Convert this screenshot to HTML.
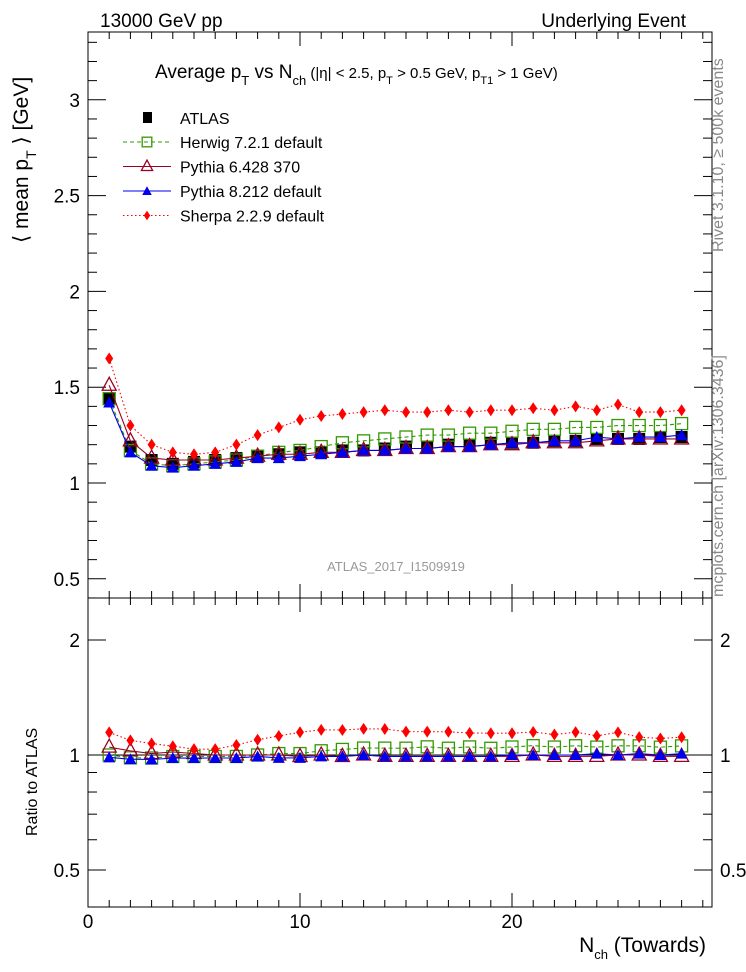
<!DOCTYPE html>
<html><head><meta charset="utf-8"><style>
body{margin:0;background:#fff}
svg{display:block;font-family:"Liberation Sans",sans-serif}
</style></head><body>
<svg id="c" width="746" height="972" xmlns="http://www.w3.org/2000/svg"></svg>
<script>
const nch=[1,2,3,4,5,6,7,8,9,10,11,12,13,14,15,16,17,18,19,20,21,22,23,24,25,26,27,28];
const atlas=[1.44,1.19,1.12,1.10,1.11,1.12,1.13,1.14,1.15,1.16,1.16,1.17,1.17,1.18,1.19,1.19,1.20,1.20,1.21,1.21,1.21,1.22,1.22,1.23,1.23,1.23,1.24,1.24];
const herwig=[1.44,1.17,1.10,1.09,1.10,1.11,1.12,1.14,1.16,1.17,1.19,1.21,1.22,1.23,1.24,1.25,1.25,1.26,1.26,1.27,1.28,1.28,1.29,1.29,1.30,1.30,1.30,1.31];
const pythia6=[1.51,1.22,1.13,1.12,1.12,1.12,1.13,1.14,1.15,1.15,1.16,1.16,1.17,1.17,1.18,1.18,1.19,1.19,1.20,1.20,1.21,1.21,1.21,1.22,1.23,1.23,1.23,1.23];
const pythia8=[1.42,1.16,1.09,1.08,1.09,1.10,1.11,1.13,1.13,1.14,1.15,1.16,1.17,1.17,1.18,1.18,1.19,1.19,1.20,1.21,1.21,1.22,1.22,1.24,1.23,1.24,1.24,1.25];
const sherpa=[1.65,1.30,1.20,1.16,1.15,1.16,1.20,1.25,1.29,1.33,1.35,1.36,1.37,1.38,1.37,1.37,1.38,1.37,1.38,1.38,1.39,1.38,1.40,1.38,1.41,1.37,1.37,1.38];
const xTicks=[0,10,20];
const yTicks=[0.5,1,1.5,2,2.5,3];
const rTicks=[0.5,1,2];

const NS="http://www.w3.org/2000/svg";
const svg=document.getElementById('c');
function el(t,a,p){const e=document.createElementNS(NS,t);for(const k in a)e.setAttribute(k,a[k]);(p||svg).appendChild(e);return e;}
const L=88,R=712,T=32,M=598,B=907;
const X=v=>L+v*21.2;
const Y=v=>483-(v-1)*191.6;
const RY=v=>755-Math.log2(v)*115;

let f1=el('rect',{x:L,y:T,width:R-L,height:M-T,fill:'none',stroke:'#000','stroke-width':1});

let f2=el('rect',{x:L,y:M,width:R-L,height:B-M,fill:'none',stroke:'#000','stroke-width':1});


for(let v=0;v<=29;v++){const big=v%10==0;const len=big?14:7;const x=X(v);
 el('line',{x1:x,y1:B,x2:x,y2:B-len,stroke:'#000'});el('line',{x1:x,y1:M,x2:x,y2:M+len,stroke:'#000'});
 el('line',{x1:x,y1:M,x2:x,y2:M-len,stroke:'#000'});el('line',{x1:x,y1:T,x2:x,y2:T+len,stroke:'#000'});}
xTicks.forEach(v=>{const t=el('text',{x:X(v),y:928,'font-size':19,'text-anchor':'middle'});t.textContent=v;
 });
for(let i=4;i<=33;i++){const v=i/10;const y=Y(v);if(y<T||y>M)continue;const big=i%5==0;const len=big?18:9;
 el('line',{x1:L,y1:y,x2:L+len,y2:y,stroke:'#000'});el('line',{x1:R,y1:y,x2:R-len,y2:y,stroke:'#000'});}
yTicks.forEach(v=>{const t=el('text',{x:80,y:Y(v)+7,'font-size':19,'text-anchor':'end'});t.textContent=v;
 });
[0.4,0.5,0.6,0.7,0.8,0.9,1,2].forEach(v=>{const y=RY(v);if(y>B)return;const big=rTicks.includes(v);const len=big?18:9;
 el('line',{x1:L,y1:y,x2:L+len,y2:y,stroke:'#000'});el('line',{x1:R,y1:y,x2:R-len,y2:y,stroke:'#000'});});
rTicks.forEach(v=>{let t=el('text',{x:80,y:RY(v)+7,'font-size':19,'text-anchor':'end'});t.textContent=v;
 
 t=el('text',{x:720,y:RY(v)+7,'font-size':19});t.textContent=v;
 });

function txt(s,a,name){const t=el('text',a);t.innerHTML=s;return t;}
txt('13000 GeV pp',{x:100,y:27,'font-size':19},'energy-label');
txt('Underlying Event',{x:686,y:27,'font-size':19,'text-anchor':'end'},'process-label');
txt('Average p<tspan dy="7" font-size="13">T</tspan><tspan dy="-7"> vs N</tspan><tspan dy="7" font-size="13">ch</tspan><tspan dy="-7" font-size="15"> (|η| &lt; 2.5, p</tspan><tspan dy="6" font-size="11">T</tspan><tspan dy="-6" font-size="15"> &gt; 0.5 GeV, p</tspan><tspan dy="6" font-size="11">T1</tspan><tspan dy="-6" font-size="15"> &gt; 1 GeV)</tspan>',{x:155,y:78,'font-size':19},'plot-title');
txt('⟨ mean p<tspan dy="8" font-size="14">T</tspan><tspan dy="-8"> ⟩ [GeV]</tspan>',{x:0,y:0,'font-size':21,transform:'translate(28,243) rotate(-90)'},'y-axis-title');
txt('Ratio to ATLAS',{x:0,y:0,'font-size':16,transform:'translate(37,836) rotate(-90)'},'ratio-axis-title');
txt('N<tspan dy="7" font-size="13">ch</tspan><tspan dy="-7"> (Towards)</tspan>',{x:706,y:952,'font-size':21,'text-anchor':'end'},'x-axis-title');
txt('ATLAS_2017_I1509919',{x:396,y:571,'font-size':13,fill:'#999','text-anchor':'middle'},'analysis-id');
txt('Rivet 3.1.10, ≥ 500k events',{x:0,y:0,'font-size':16,fill:'#888',transform:'translate(723,252) rotate(-90)'},'rivet-label');
txt('mcplots.cern.ch [arXiv:1306.3436]',{x:0,y:0,'font-size':16,fill:'#888',transform:'translate(723,597) rotate(-90)'},'mcplots-label');

function marker(type,x,y,c,g,s){s=s||1;
 if(type=='fsq')return el('rect',{x:x-6*s,y:y-6*s,width:12*s,height:12*s,fill:'#000'},g);
 if(type=='osq')return el('rect',{x:x-6*s,y:y-6*s,width:12*s,height:12*s,fill:'none',stroke:c,'stroke-width':1.3},g);
 if(type=='otri')return el('polygon',{points:`${x},${y-8*s} ${x-7*s},${y+5*s} ${x+7*s},${y+5*s}`,fill:'none',stroke:c,'stroke-width':1.3},g);
 if(type=='ftri')return el('polygon',{points:`${x},${y-6*s} ${x-6*s},${y+5*s} ${x+6*s},${y+5*s}`,fill:c},g);
 if(type=='dia')return el('polygon',{points:`${x},${y-6*s} ${x-4*s},${y} ${x},${y+6*s} ${x+4*s},${y}`,fill:c},g);
}
const series=[
 {name:'herwig',data:herwig,c:'#339900',dash:'4,3',m:'osq',lab:'Herwig 7.2.1 default'},
 {name:'pythia6',data:pythia6,c:'#990022',dash:'',m:'otri',lab:'Pythia 6.428 370'},
 {name:'pythia8',data:pythia8,c:'#0000ee',dash:'',m:'ftri',lab:'Pythia 8.212 default'},
 {name:'sherpa',data:sherpa,c:'#ff0000',dash:'1.5,2.5',m:'dia',lab:'Sherpa 2.2.9 default'}];

const ga=el('g',{});
atlas.forEach((v,i)=>{const r=marker('fsq',X(nch[i]),Y(v),'#000',ga);});
el('line',{x1:L,y1:RY(1),x2:R,y2:RY(1),stroke:'#000'});
series.forEach(s=>{
 const g=el('g',{});
 el('polyline',{points:s.data.map((v,i)=>X(nch[i])+','+Y(v)).join(' '),fill:'none',stroke:s.c,'stroke-dasharray':s.dash,'stroke-width':1.1},g);
 s.data.forEach((v,i)=>{const m=marker(s.m,X(nch[i]),Y(v),s.c,g);});
 const gr=el('g',{});
 const rat=s.data.map((v,i)=>v/atlas[i]);
 el('polyline',{points:rat.map((v,i)=>X(nch[i])+','+RY(v)).join(' '),fill:'none',stroke:s.c,'stroke-dasharray':s.dash,'stroke-width':1.1},gr);
 rat.forEach((v,i)=>{const m=marker(s.m,X(nch[i]),RY(v),s.c,gr);});
});
const lg=el('g',{});
let e=el('g',{},lg);
el('rect',{x:143,y:112,width:9,height:11,fill:'#000'},e);
let tt=el('text',{x:180,y:124,'font-size':16},e);tt.textContent='ATLAS';
series.forEach((s,k)=>{const y=142+k*24.5;
 const e=el('g',{},lg);
 el('line',{x1:123,y1:y,x2:171,y2:y,stroke:s.c,'stroke-dasharray':s.dash},e);
 marker(s.m,147,y,s.c,e,0.8);
 const t=el('text',{x:180,y:y+6,'font-size':16},e);t.textContent=s.lab;});
</script>
</body></html>
